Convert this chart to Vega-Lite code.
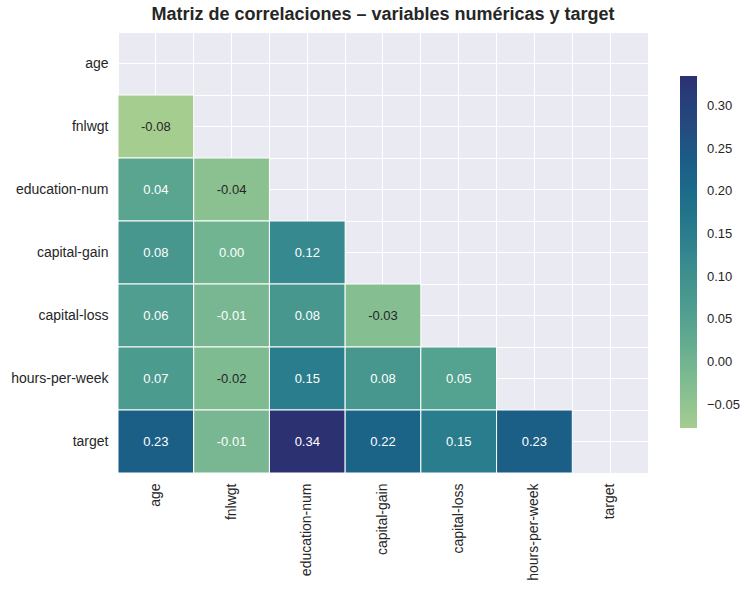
{
  "$schema": "https://vega.github.io/schema/vega-lite/v6.json",
  "autosize": "none",
  "width": 530,
  "height": 441,
  "padding": {"left": 118, "top": 32, "right": 105, "bottom": 117},
  "background": "white",
  "config": {
    "view": {"fill": "#EAEAF2", "stroke": null},
    "font": "Liberation Sans"
  },
  "title": {
    "text": "Matriz de correlaciones – variables numéricas y target",
    "fontSize": 18,
    "fontWeight": "bold",
    "color": "#262626",
    "anchor": "middle",
    "offset": 8
  },
  "data": {
    "values": [
      {"row": "fnlwgt", "col": "age", "v": -0.08},
      {"row": "education-num", "col": "age", "v": 0.04},
      {"row": "education-num", "col": "fnlwgt", "v": -0.04},
      {"row": "capital-gain", "col": "age", "v": 0.08},
      {"row": "capital-gain", "col": "fnlwgt", "v": 0.0},
      {"row": "capital-gain", "col": "education-num", "v": 0.12},
      {"row": "capital-loss", "col": "age", "v": 0.06},
      {"row": "capital-loss", "col": "fnlwgt", "v": -0.01},
      {"row": "capital-loss", "col": "education-num", "v": 0.08},
      {"row": "capital-loss", "col": "capital-gain", "v": -0.03},
      {"row": "hours-per-week", "col": "age", "v": 0.07},
      {"row": "hours-per-week", "col": "fnlwgt", "v": -0.02},
      {"row": "hours-per-week", "col": "education-num", "v": 0.15},
      {"row": "hours-per-week", "col": "capital-gain", "v": 0.08},
      {"row": "hours-per-week", "col": "capital-loss", "v": 0.05},
      {"row": "target", "col": "age", "v": 0.23},
      {"row": "target", "col": "fnlwgt", "v": -0.01},
      {"row": "target", "col": "education-num", "v": 0.34},
      {"row": "target", "col": "capital-gain", "v": 0.22},
      {"row": "target", "col": "capital-loss", "v": 0.15},
      {"row": "target", "col": "hours-per-week", "v": 0.23}
    ]
  },
  "transform": [
    {"calculate": "replace(format(datum.v, '.2f'), '−', '-')", "as": "label"}
  ],
  "resolve": {"axis": {"x": "independent", "y": "independent"}},
  "layer": [
    {
      "mark": {"type": "rect", "stroke": "white", "strokeWidth": 1},
      "encoding": {
        "x": {
          "field": "col", "type": "nominal",
          "scale": {"domain": ["age", "fnlwgt", "education-num", "capital-gain", "capital-loss", "hours-per-week", "target"], "paddingInner": 0, "paddingOuter": 0},
          "axis": {"title": null, "orient": "bottom", "zindex": 0, "labelAngle": 270, "labelFontSize": 14, "labelColor": "#262626", "labelPadding": 10, "ticks": false, "domain": false, "grid": true, "gridColor": "white", "gridWidth": 1, "gridOpacity": 1, "bandPosition": 0.5}
        },
        "y": {
          "field": "row", "type": "nominal",
          "scale": {"domain": ["age", "fnlwgt", "education-num", "capital-gain", "capital-loss", "hours-per-week", "target"], "paddingInner": 0, "paddingOuter": 0},
          "axis": {"title": null, "orient": "left", "zindex": 0, "labelFontSize": 14, "labelColor": "#262626", "labelPadding": 10, "ticks": false, "domain": false, "grid": true, "gridColor": "white", "gridWidth": 1, "gridOpacity": 1, "bandPosition": 0.5}
        },
        "color": {
          "field": "v", "type": "quantitative",
          "scale": {
            "domain": [-0.077, -0.018143, 0.040714, 0.099571, 0.158429, 0.217286, 0.276143, 0.335],
            "range": ["#a5cd90", "#7dba91", "#59a590", "#40908e", "#287a8c", "#1c6488", "#254b7f", "#2c3172"],
            "clamp": true
          },
          "legend": {
            "orient": "none", "legendX": 562, "legendY": 44,
            "direction": "vertical",
            "gradientLength": 352, "gradientThickness": 17, "gradientStrokeWidth": 0,
            "title": null,
            "values": [-0.05, 0, 0.05, 0.1, 0.15, 0.2, 0.25, 0.3],
            "format": ".2f",
            "labelFontSize": 13, "labelColor": "#262626", "labelOffset": 10,
            "labelOverlap": false
          }
        }
      }
    },
    {
      "mark": {"type": "text", "fontSize": 13},
      "encoding": {
        "x": {
          "field": "col", "type": "nominal",
          "axis": {"title": null, "orient": "bottom", "zindex": 0, "labels": false, "ticks": false, "domain": false, "grid": true, "gridColor": "white", "gridWidth": 1, "gridOpacity": 1, "bandPosition": 0}
        },
        "y": {
          "field": "row", "type": "nominal",
          "axis": {"title": null, "orient": "left", "zindex": 0, "labels": false, "ticks": false, "domain": false, "grid": true, "gridColor": "white", "gridWidth": 1, "gridOpacity": 1, "bandPosition": 0}
        },
        "text": {"field": "label", "type": "nominal"},
        "color": {
          "condition": {"test": "datum.v <= -0.02", "value": "#262626"},
          "value": "white"
        }
      }
    }
  ]
}
